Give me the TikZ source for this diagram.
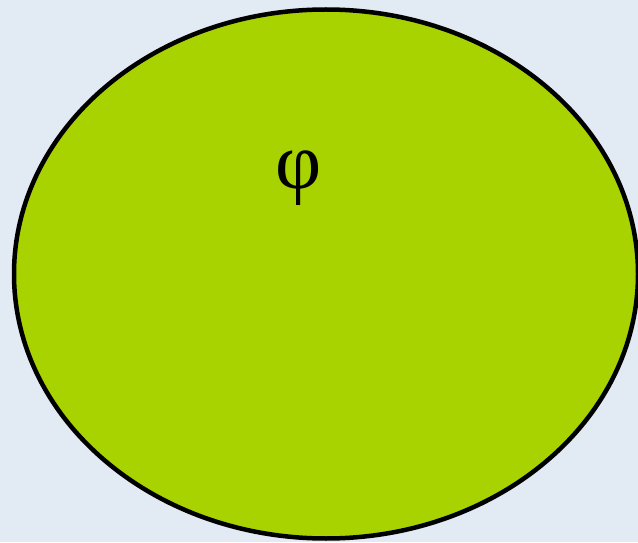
\documentclass[tikz,border=0pt]{standalone}
\usepackage{fontspec}
\usetikzlibrary{shapes.geometric}
\newfontfamily\phifont{Liberation Serif}
\definecolor{pagebg}{HTML}{E2EAF4}
\definecolor{setgreen}{HTML}{A8D200}

\begin{document}
\begin{tikzpicture}[
  x=1pt,
  y=1pt,
  setshape/.style={ellipse, draw=black, fill=setgreen, line width=4.5pt,
    inner sep=0pt, minimum width=624pt, minimum height=529pt},
  setlabel/.style={font=\phifont\fontsize{80}{80}\selectfont, inner sep=0pt}
]
  % ---- page and background ---------------------------------------------
  \useasboundingbox (0,0) rectangle (638,542);
  \fill[pagebg] (0,0) rectangle (638,542);
  \clip (0,0) rectangle (638,542);

  % ---- the set ---------------------------------------------------------
  \node[setshape] (set) at (326,268) {};
  \node[setlabel] (phi) at (299,364) {φ};
\end{tikzpicture}
\end{document}
